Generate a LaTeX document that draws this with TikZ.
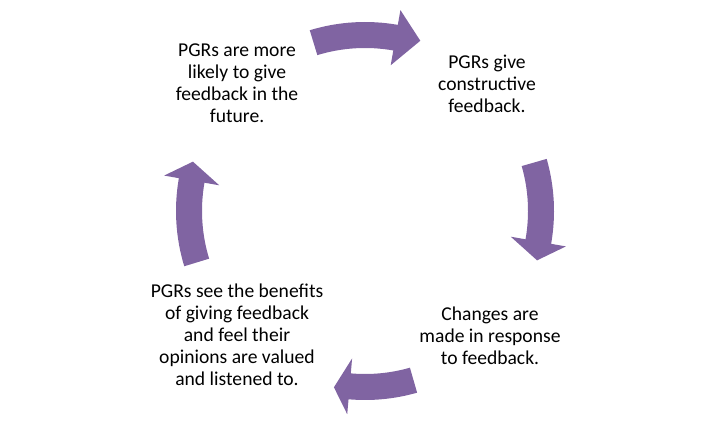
\documentclass[tikz,border=0pt]{standalone}
\usepackage{fontspec}
\setmainfont{Carlito}
\usepackage{xcolor}
\definecolor{mypurple}{RGB}{128,100,162}
\usetikzlibrary{calc}

% one curved block arrow of the cycle: tail angle, head base angle, tip angle
\newcommand{\cyclearrow}[3]{%
  \fill[mypurple] ($(C)+(#1:163)$) arc[start angle=#1, end angle=#2, radius=163]
    -- ($(C)+(#2:148)$) -- ($(C)+(#3:179)$) -- ($(C)+(#2:204)$)
    -- ($(C)+(#2:189)$) arc[start angle=#2, end angle=#1, radius=189] -- cycle;}

\begin{document}
\begin{tikzpicture}[x=1pt,y=1pt,
    steptext/.style={align=center, inner sep=0pt, font=\fontsize{19.6}{21.9}\selectfont}]
  \useasboundingbox (0,0) rectangle (720,421);
  \coordinate (C) at (365,210); % centre of the cycle

  \cyclearrow{107}{80}{72}    % top
  \cyclearrow{16}{-10}{-16}   % right
  \cyclearrow{-74}{-95}{-100} % bottom
  \cyclearrow{197}{170}{164}  % left

  \node[steptext] (give) at (487,337) {PGRs give\\constructive\\feedback.};
  \node[steptext] (changes) at (490,85) {Changes are\\made in response\\to feedback.};
  \node[steptext] (benefits) at (237,86) {PGRs see the benefits\\of giving feedback\\and feel their\\opinions are valued\\and listened to.};
  \node[steptext] (likely) at (237,338) {PGRs are more\\likely to give\\feedback in the\\future.};
\end{tikzpicture}
\end{document}
